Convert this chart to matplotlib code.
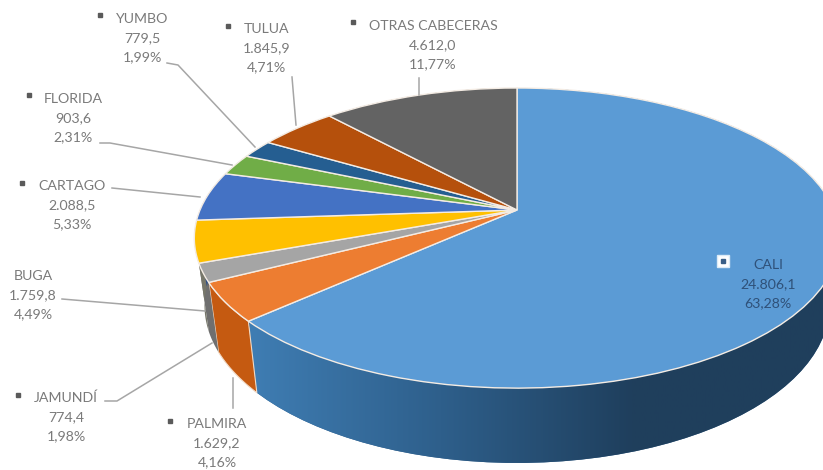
import numpy as np
import matplotlib
matplotlib.use("Agg")
import matplotlib.pyplot as plt
from matplotlib.transforms import Transform
from matplotlib.patches import Polygon
from matplotlib.colors import LinearSegmentedColormap

plt.rcParams['font.family'] = ['Lato', 'DejaVu Sans']

categories = ["CALI", "PALMIRA", "JAMUNDÍ", "BUGA", "CARTAGO", "FLORIDA", "YUMBO", "TULUA", "OTRAS CABECERAS"]
values = [24806.1, 1629.2, 774.4, 1759.8, 2088.5, 903.6, 779.5, 1845.9, 4612.0]
value_labels = ["24.806,1", "1.629,2", "774,4", "1.759,8", "2.088,5", "903,6", "779,5", "1.845,9", "4.612,0"]
pct_labels = ["63,28%", "4,16%", "1,98%", "4,49%", "5,33%", "2,31%", "1,99%", "4,71%", "11,77%"]
top_colors = ["#5b9bd5", "#ed7d31", "#a5a5a5", "#ffc000", "#4472c4", "#70ad47", "#255e91", "#b5500c", "#636363"]
side_colors = ["#2f5f8c", "#c55a11", "#6f6f6f", "#77776a", "#2c4d85", "#4b7530", "#193f62", "#843c0c", "#404040"]

label_centers = [(768, 284), (217, 443), (66, 417), (33, 295), (72, 205), (73, 118), (142, 38), (267, 48), (433, 45)]
bullets = [None, (170, 421), (18, 395), None, (22, 183), (29, 95), (100, 15), (228, 26), (353, 22)]
leaders = [
    None,
    [(233, 408), (233, 378)],
    [(105, 401), (117, 401), (212, 343)],
    [(62, 299), (205, 311)],
    [(112, 188), (200, 197)],
    [(100, 143), (110, 143), (232, 165)],
    [(167, 63), (178, 65), (255, 147)],
    [(292, 77), (296, 125)],
    [(419, 78), (419, 95)],
]


class Persp(Transform):
    input_dims = 2
    output_dims = 2
    is_separable = False
    has_inverse = False

    def __init__(self, x0, y0, a, b, k=0.187):
        super().__init__()
        self.p = (x0, y0, a, b, k)

    def transform_non_affine(self, v):
        x0, y0, a, b, k = self.p
        v = np.asarray(v, dtype=float)
        w = 1 + k * v[:, 1]
        return np.column_stack([x0 + a * v[:, 0] / w, y0 - b * v[:, 1] / w])


top_map = Persp(517, 210, 317, 144.8)
low_map = Persp(517, 276, 307, 152)

fig = plt.figure(figsize=(8.23, 4.70), dpi=100)
ax = fig.add_axes([0, 0, 1, 1])

wedges, _ = ax.pie(values, startangle=90, counterclock=False, colors=top_colors,
                   wedgeprops=dict(edgecolor="#f4ece4", linewidth=1.0))
top_tr = top_map + ax.transData
for w in wedges:
    w.set_transform(top_tr)
    w.set_zorder(3)
    w.set_clip_on(True)


def side_poly(w):
    th = np.radians(np.linspace(w.theta1, w.theta2, 80))
    c = np.column_stack([np.cos(th), np.sin(th)])
    return np.vstack([top_map.transform(c), low_map.transform(c)[::-1]])


for i, w in enumerate(wedges):
    poly = Polygon(side_poly(w), closed=True, facecolor=side_colors[i], edgecolor="#f0d9c4" if i == 1 else "none",
                   linewidth=0.8, zorder=2 if i else 1)
    ax.add_patch(poly)
    if i == 0:
        cmap = LinearSegmentedColormap.from_list("side", ["#3f7db3", "#2e5f8b", "#1f3f5d", "#203f5c"])
        grad = np.linspace(0, 1, 256).reshape(1, -1)
        im = ax.imshow(grad, cmap=cmap, extent=(250, 823, 470, 0), aspect="auto", zorder=1.5)
        im.set_clip_path(poly)

for i, name in enumerate(categories):
    cx, cy = label_centers[i]
    col = "#2f5179" if i == 0 else "#7a7a7a"
    ax.text(cx, cy, f"{name}\n{value_labels[i]}\n{pct_labels[i]}", ha="center", va="center",
            fontsize=10.2, color=col, linespacing=1.72, zorder=6)
    if leaders[i] is not None:
        xs, ys = zip(*leaders[i])
        ax.plot(xs, ys, color="#a6a6a6", lw=1.1, zorder=5)
    if bullets[i] is not None:
        ax.plot(*bullets[i], marker="s", ms=2.6, color="#5a5a5a", zorder=6)

ax.plot(723, 261, marker="s", ms=9, mfc="white", mec="#dcebf7", zorder=6)
ax.plot(723, 261, marker="s", ms=3, color="#3a5f88", zorder=7)

ax.set_aspect("auto")
ax.set_xlim(0, 823)
ax.set_ylim(470, 0)
ax.axis("off")
fig.savefig("out.png", dpi=100, facecolor="white")
